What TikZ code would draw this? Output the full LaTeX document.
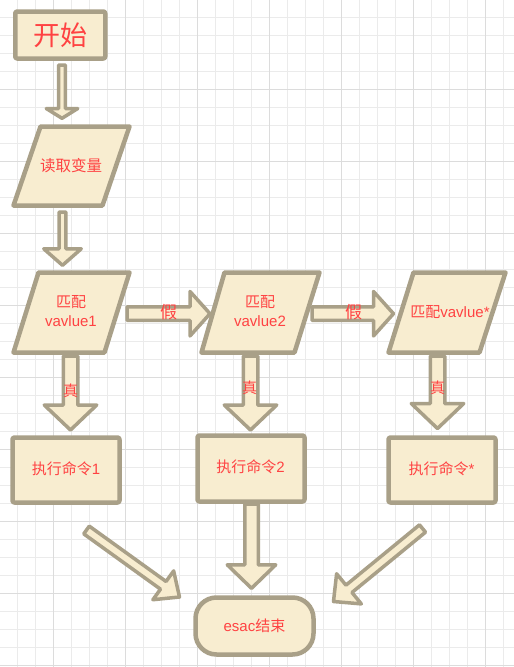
\documentclass[tikz,border=0pt]{standalone}
\usepackage{fontspec}
\setmainfont{Liberation Sans}
\newfontfamily\cjk{Noto Sans CJK SC}
\usetikzlibrary{calc}
\definecolor{fillc}{HTML}{F8EDD0}
\definecolor{edgec}{HTML}{A9A088}
\definecolor{txtc}{HTML}{FF4242}
\definecolor{gridc}{HTML}{EBEBEB}
\definecolor{gridd}{HTML}{DCDCDC}
\tikzset{
  blk/.style={draw=edgec, fill=fillc, line width=3.5pt, line join=round},
  shp/.style={draw=edgec, fill=fillc, line width=4.5pt, line join=round},
  box/.style={shp, rectangle, rounded corners=2pt, inner sep=0pt},
  txt/.style={text=txtc, inner sep=0pt, font=\fontsize{15}{17}\selectfont},
  cn/.style={text=txtc, inner sep=0pt, font=\cjk\fontsize{15}{17}\selectfont},
}
\newcommand\myblockarrow[5]{%
  \coordinate (ba-base) at ($(#2)!#5pt!(#1)$);
  \draw[blk] ($(#1)!#3pt!90:(#2)$) -- ($(ba-base)!#3pt!90:(#2)$) -- ($(ba-base)!#4pt!90:(#2)$) -- (#2)
    -- ($(ba-base)!#4pt!-90:(#2)$) -- ($(ba-base)!#3pt!-90:(#2)$) -- ($(#1)!#3pt!-90:(#2)$) -- cycle;}
\begin{document}
\begin{tikzpicture}[x=1pt,y=-1pt]
\fill[white] (0,0) rectangle (514,667);
\useasboundingbox (0,0) rectangle (514,667);
% grid
\foreach \k in {1,...,28} \draw[gridc, line width=1pt] ({18*\k-0.7},0) -- ({18*\k-0.7},667);
\foreach \k in {1,...,37} \draw[gridc, line width=1pt] (0,{18*\k-0.7}) -- (514,{18*\k-0.7});
\foreach \k in {3,7,...,27} \draw[gridd, line width=1pt] ({18*\k-0.7},0) -- ({18*\k-0.7},667);
\foreach \k in {5,9,...,37} \draw[gridd, line width=1pt] (0,{18*\k-0.7}) -- (514,{18*\k-0.7});

% arrow end points
\coordinate (a1s) at (62,65);     \coordinate (a1e) at (62,118.3);
\coordinate (a2s) at (62.5,212);  \coordinate (a2e) at (62.5,265.3);
\coordinate (t1s) at (70.5,356);  \coordinate (t1e) at (70.5,430);
\coordinate (t2s) at (250.5,356); \coordinate (t2e) at (250.5,430);
\coordinate (t3s) at (437.5,356); \coordinate (t3e) at (437.5,428.5);
\coordinate (f1s) at (127,313.7); \coordinate (f1e) at (210,313.7);
\coordinate (f2s) at (312,313.7); \coordinate (f2e) at (393.5,313.7);
\coordinate (ms) at (251.5,504);  \coordinate (me) at (251.5,588.3);
\coordinate (ls) at (86.5,530);   \coordinate (le) at (179.5,597);
\coordinate (rs) at (422.5,528.5);\coordinate (re) at (333.5,601.5);

% block arrows
\myblockarrow{a1s}{a1e}{3.45}{15.75}{9.8}
\myblockarrow{a2s}{a2e}{3.45}{18.75}{16.5}
\myblockarrow{t1s}{t1e}{7.25}{26.25}{25}
\myblockarrow{t2s}{t2e}{7.25}{26.25}{25}
\myblockarrow{t3s}{t3e}{7.25}{26.25}{25}
\myblockarrow{f1s}{f1e}{6.75}{22.25}{20}
\myblockarrow{f2s}{f2e}{6.75}{22.25}{20}
\myblockarrow{ms}{me}{6.75}{24.25}{23.5}
\myblockarrow{ls}{le}{4.75}{17.75}{20}
\myblockarrow{rs}{re}{4.75}{19.5}{20}

% shapes
\node[box, minimum width=90pt, minimum height=47pt, text=txtc,
      font=\cjk\fontsize{27}{29}\selectfont] (start) at (60.25,35) {开始};
\draw[shp] (40.5,126.5) -- (129.5,126.5) -- (102.5,205.5) -- (13.5,205.5) -- cycle;
\node[cn, font=\cjk\fontsize{15.5}{17}\selectfont] (read) at (71,165.5) {读取变量};

\draw[shp] (38.5,272.5) -- (129.5,272.5) -- (104.5,352.5) -- (13.5,352.5) -- cycle;
\node[cn] (m1) at (71,302.5) {匹配};
\node[txt] (m1v) at (71,321.5) {vavlue1};

\draw[shp] (224.5,272.5) -- (319.5,272.5) -- (294.5,352.5) -- (201.5,352.5) -- cycle;
\node[cn] (m2) at (260,302.5) {匹配};
\node[txt] (m2v) at (260,321.5) {vavlue2};

\draw[shp] (413.5,272.5) -- (505.5,272.5) -- (479.5,352.5) -- (388.5,352.5) -- cycle;
\node[txt] (m3) at (450,312.5) {{\cjk 匹配}vavlue*};

\node[box, minimum width=107pt, minimum height=65pt] (c1) at (66,470) {};
\node[txt] (c1t) at (66,468.5) {{\cjk 执行命令}1};
\node[box, minimum width=107pt, minimum height=66pt] (c2) at (251,468.5) {};
\node[txt] (c2t) at (250.5,467) {{\cjk 执行命令}2};
\node[box, minimum width=107pt, minimum height=65pt] (c3) at (442,470) {};
\node[txt] (c3t) at (441.5,468.5) {{\cjk 执行命令}*};

\node[box, rounded corners=21pt, minimum width=118pt, minimum height=57pt] (end) at (254.5,626) {};
\node[txt] (endt) at (254.5,625.5) {esac{\cjk 结束}};

% labels
\node[cn, font=\cjk\fontsize{17}{19}\selectfont] (f1) at (168.5,312.5) {假};
\node[cn, font=\cjk\fontsize{17}{19}\selectfont] (f2) at (353.5,312.5) {假};
\node[cn] (z1) at (70.5,390.5) {真};
\node[cn] (z2) at (249.5,387.5) {真};
\node[cn] (z3) at (437.5,387.5) {真};
\end{tikzpicture}
\end{document}
